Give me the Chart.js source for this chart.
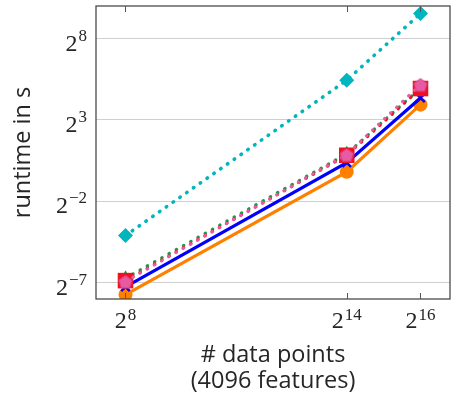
<!DOCTYPE html>
<html>
<head>
<meta charset="utf-8">
<script src="https://cdn.jsdelivr.net/npm/chart.js@4"></script>
<style>
  html, body { margin: 0; padding: 0; background: #ffffff; }
  canvas { display: block; }
</style>
</head>
<body>
<canvas id="chart" width="452" height="405"></canvas>
<script>
// Données (runtime en secondes, axes log2)
const dataPoints = [256, 16384, 65536];
const xTickExps = [8, 14, 16];
const yTickExps = [-7, -2, 3, 8];

const cyanRuntime   = [2 ** -4.1, 2 ** 5.44, 2 ** 9.54];
const greenRuntime  = [2 ** -6.72, 2 ** 0.92, 2 ** 4.96];
const redRuntime    = [2 ** -6.87, 2 ** 0.83, 2 ** 4.93];
const pinkRuntime   = [2 ** -6.92, 2 ** 0.87, 2 ** 5.17];
const blueRuntime   = [2 ** -7.25, 2 ** 0.38, 2 ** 4.35];
const orangeRuntime = [2 ** -7.73, 2 ** -0.19, 2 ** 3.94];

// Pentagone pour la série rose
function makePentagon(size, fill, stroke) {
    const c = document.createElement('canvas');
    c.width = size; c.height = size;
    const g = c.getContext('2d');
    const r = size / 2 - 1;
    g.beginPath();
    for (let i = 0; i < 5; i++) {
        const a = -Math.PI / 2 + i * 2 * Math.PI / 5;
        const px = size / 2 + r * Math.cos(a);
        const py = size / 2 + 1 + r * Math.sin(a);
        if (i === 0) g.moveTo(px, py); else g.lineTo(px, py);
    }
    g.closePath();
    g.fillStyle = fill;
    g.fill();
    g.strokeStyle = stroke;
    g.lineWidth = 1;
    g.stroke();
    return c;
}
const pentagon = makePentagon(16, '#e85aa2', '#d8408a');

const toXY = (arr) => arr.map((v, i) => ({ x: dataPoints[i], y: v }));

const dotted = [0.5, 7.8];

const frameAndLabels = {
    id: 'frameAndLabels',
    afterDraw(chart) {
        const ctx = chart.ctx;
        const { x, y } = chart.scales;
        const area = chart.chartArea;
        ctx.save();

        // cadre
        ctx.strokeStyle = '#3c3c3c';
        ctx.lineWidth = 1.2;
        ctx.strokeRect(area.left, area.top, area.right - area.left, area.bottom - area.top);

        // petites graduations x
        ctx.strokeStyle = '#555555';
        ctx.lineWidth = 1;
        xTickExps.forEach(e => {
            const px = Math.round(x.getPixelForValue(2 ** e)) + 0.5;
            ctx.beginPath();
            ctx.moveTo(px, area.bottom);
            ctx.lineTo(px, area.bottom - 6);
            ctx.moveTo(px, area.top);
            ctx.lineTo(px, area.top + 6);
            ctx.stroke();
        });

        ctx.fillStyle = '#262626';
        ctx.textBaseline = 'alphabetic';
        xTickExps.forEach(e => {
            drawPower(ctx, e, x.getPixelForValue(2 ** e), 328, 320, 'center');
        });
        yTickExps.forEach(e => {
            const py = y.getPixelForValue(2 ** e);
            drawPower(ctx, e, 87, py + 12, py + 2, 'right');
        });

        // titres des axes
        ctx.font = "23.5px 'Open Sans'";
        ctx.textAlign = 'center';
        ctx.textBaseline = 'middle';
        const cx = (area.left + area.right) / 2;
        ctx.fillText('# data points', cx, 355);
        ctx.fillText('(4096 features)', cx, 381);

        ctx.translate(23, (area.top + area.bottom) / 2);
        ctx.rotate(-Math.PI / 2);
        ctx.fillText('runtime in s', 0, 0);
        ctx.restore();
    }
};

function drawPower(ctx, exp, px, baseY, supY, align) {
    const base = '2';
    const sup = exp < 0 ? '\u2212' + (-exp) : String(exp);
    ctx.font = "24px 'Liberation Serif'";
    const wb = ctx.measureText(base).width;
    ctx.font = "17px 'Liberation Serif'";
    const ws = ctx.measureText(sup).width;
    const total = wb + 1 + ws;
    const x0 = align === 'right' ? px - total : px - total / 2;
    ctx.textAlign = 'left';
    ctx.font = "24px 'Liberation Serif'";
    ctx.fillText(base, x0, baseY);
    ctx.font = "17px 'Liberation Serif'";
    ctx.fillText(sup, x0 + wb + 1, supY);
}

new Chart(document.getElementById('chart'), {
    type: 'line',
    data: {
        datasets: [
            {
                label: 'pink',
                data: toXY(pinkRuntime),
                borderColor: '#e85aa2',
                backgroundColor: '#e85aa2',
                borderWidth: 3.2,
                borderDash: dotted,
                borderCapStyle: 'round',
                pointStyle: pentagon,
                order: 0
            },
            {
                label: 'red',
                data: toXY(redRuntime),
                borderColor: '#f0101e',
                backgroundColor: '#f0101e',
                borderWidth: 3.2,
                borderDash: dotted,
                borderCapStyle: 'round',
                pointStyle: 'rect',
                pointRadius: 11,
                pointBorderWidth: 0,
                order: 1
            },
            {
                label: 'green',
                data: toXY(greenRuntime),
                borderColor: '#1e9a4e',
                backgroundColor: '#1e9a4e',
                borderWidth: 3.2,
                borderDash: dotted,
                borderCapStyle: 'round',
                pointStyle: 'triangle',
                pointRadius: 8,
                pointBorderWidth: 0,
                order: 2
            },
            {
                label: 'blue',
                data: toXY(blueRuntime),
                borderColor: '#0000ff',
                backgroundColor: '#0000ff',
                borderWidth: 3.2,
                pointStyle: 'crossRot',
                pointRadius: 6,
                pointBorderWidth: 2.5,
                order: 3
            },
            {
                label: 'orange',
                data: toXY(orangeRuntime),
                borderColor: '#ff8000',
                backgroundColor: '#ff8000',
                borderWidth: 3.2,
                pointStyle: 'circle',
                pointRadius: 7,
                pointBorderWidth: 0,
                order: 4
            },
            {
                label: 'cyan',
                data: toXY(cyanRuntime),
                borderColor: '#00b6be',
                backgroundColor: '#00b6be',
                borderWidth: 3.6,
                borderDash: dotted,
                borderCapStyle: 'round',
                pointStyle: 'rectRot',
                pointRadius: 7.5,
                pointBorderWidth: 0,
                order: 5
            }
        ]
    },
    options: {
        responsive: false,
        devicePixelRatio: 1,
        animation: false,
        layout: {
            autoPadding: false,
            padding: { left: 96, right: 2, top: 6, bottom: 106 }
        },
        scales: {
            x: {
                type: 'logarithmic',
                min: 2 ** 7.2,
                max: 2 ** 16.8,
                afterBuildTicks: (scale) => {
                    scale.ticks = xTickExps.map(e => ({ value: 2 ** e }));
                },
                afterFit: (scale) => { scale.height = 0; },
                ticks: { display: false },
                grid: { display: false },
                border: { display: false }
            },
            y: {
                type: 'logarithmic',
                min: 2 ** -8,
                max: 2 ** 10,
                afterBuildTicks: (scale) => {
                    scale.ticks = yTickExps.map(e => ({ value: 2 ** e }));
                },
                afterFit: (scale) => { scale.width = 0; },
                ticks: { display: false },
                grid: { color: '#cfcfcf', lineWidth: 1, drawTicks: false },
                border: { display: false }
            }
        },
        plugins: {
            legend: { display: false },
            tooltip: { enabled: false }
        }
    },
    plugins: [frameAndLabels]
});
</script>
</body>
</html>
